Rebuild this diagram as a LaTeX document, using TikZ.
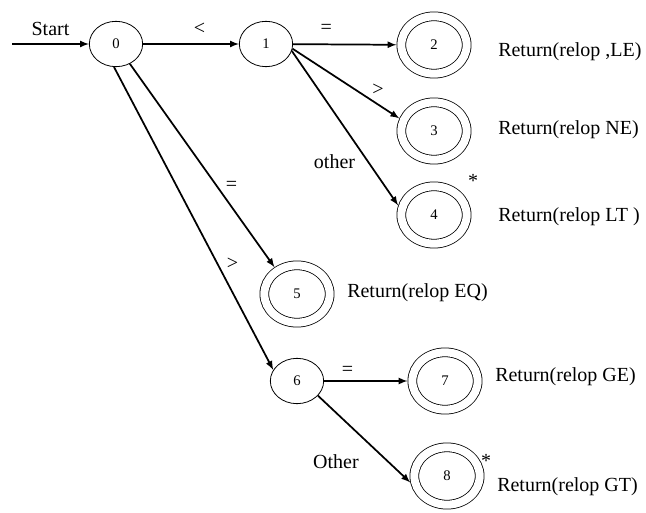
\documentclass[tikz,border=0pt]{standalone}
\usepackage{fontspec}
\setmainfont{Liberation Serif}
\usetikzlibrary{shapes.geometric}
\tikzset{>=latex}

\begin{document}
\begin{tikzpicture}[x=0.75pt, y=-0.75pt,
  state/.style={ellipse, draw, line width=0.6pt, minimum width=40pt, minimum height=34pt,
    inner sep=0pt, font=\fontsize{11}{13}\selectfont},
  accept/.style={ellipse, draw, line width=0.6pt, double, double distance=6pt, outer sep=3.6pt,
    minimum width=49pt, minimum height=43pt, inner sep=0pt, font=\fontsize{11}{13}\selectfont},
  lbl/.style={font=\fontsize{15}{17}\selectfont},
  ret/.style={anchor=west, inner sep=0pt, font=\fontsize{15}{17}\selectfont},
  edge/.style={->, line width=1.3pt}]
\useasboundingbox (0,0) rectangle (646,513);

\node[state] (n0) at (116,44) {0};
\node[state] (n1) at (266,44) {1};
\node[accept] (n2) at (434,45) {2};
\node[accept] (n3) at (434,131) {3};
\node[accept] (n4) at (434,215) {4};
\node[accept] (n5) at (297,294) {5};
\node[state] (n6) at (297,381) {6};
\node[accept] (n7) at (445,381) {7};
\node[accept] (n8) at (447,476) {8};
\coordinate (start) at (12,44);

\node[ret] (r2) at (498,52) {Return(relop ,LE)};
\node[ret] (r3) at (498,130) {Return(relop NE)};
\node[ret] (r4) at (498,217) {Return(relop LT )};
\node[ret] (r5) at (347,293) {Return(relop EQ)};
\node[ret] (r7) at (495,377) {Return(relop GE)};
\node[ret] (r8) at (497,487) {Return(relop GT)};
\node[lbl] (s4) at (473,181) {*};
\node[lbl] (s8) at (486,461) {*};

\path[edge, lbl]
(start) edge node[above=2pt] {Start} (n0)
(n0) edge node[pos=0.59, above=3pt] {<} (n1)
(n1) edge node[pos=0.32, above=4pt] {=} (n2)
(n1.350) edge node[pos=0.8, above=3pt] {>} (n3.160)
(n1.345) edge node[pos=0.72, left=6pt] {other} (n4.165)
(n0.305) edge node[pos=0.6, right=3pt] {=} (n5.130)
(n0.265) edge node[pos=0.65, right=3pt] {>} (n6.155)
(n6) edge node[pos=0.28, above] {=} (n7)
(n6.325) edge node[pos=0.5, below left=8pt, xshift=8pt] {Other} (n8.190)
;
\end{tikzpicture}
\end{document}
